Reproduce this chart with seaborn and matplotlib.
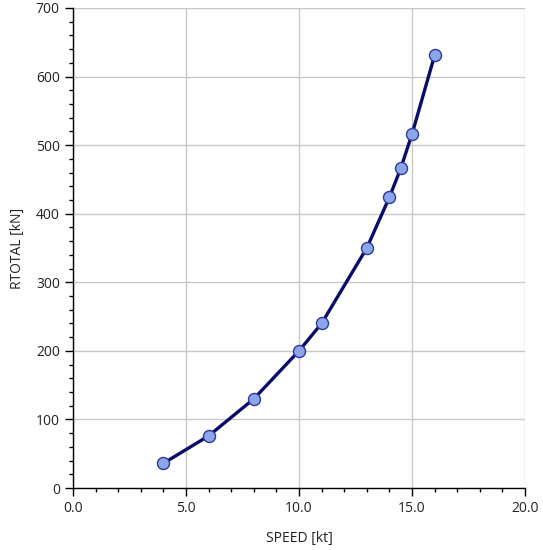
import matplotlib
matplotlib.use("Agg")
import matplotlib.pyplot as plt
from matplotlib.ticker import MultipleLocator, FormatStrFormatter
import pandas as pd
import seaborn as sns

# speed / total resistance values
speed_kt = [4, 6, 8, 10, 11, 13, 14, 14.5, 15, 16]
rtotal_kn = [36, 76, 130, 200, 240, 350, 424, 466, 516, 631]

df = pd.DataFrame({"SPEED [kt]": speed_kt, "RTOTAL [kN]": rtotal_kn})

sns.set_style("white")
plt.rcParams["font.family"] = ["Open Sans", "DejaVu Sans"]

fig = plt.figure(figsize=(5.43, 5.5), dpi=100)
ax = fig.add_axes([0.1344, 0.1127, 0.8325, 0.8728])

sns.lineplot(data=df, x="SPEED [kt]", y="RTOTAL [kN]", ax=ax,
             color="#0b0b6b", linewidth=2.4, zorder=3)
sns.scatterplot(data=df, x="SPEED [kt]", y="RTOTAL [kN]", ax=ax,
                s=75, color="#8da6ea", edgecolor="#2a3a9a", linewidth=1.0,
                zorder=4)

ax.set_xlim(0, 20)
ax.set_ylim(0, 700)
ax.xaxis.set_major_locator(MultipleLocator(5))
ax.xaxis.set_minor_locator(MultipleLocator(1))
ax.yaxis.set_major_locator(MultipleLocator(100))
ax.yaxis.set_minor_locator(MultipleLocator(20))
ax.xaxis.set_major_formatter(FormatStrFormatter("%.1f"))

ax.grid(True, which="major", color="#c8c8c8", linewidth=1.0)
ax.set_axisbelow(True)
for side in ["top", "right"]:
    ax.spines[side].set_visible(False)
for side in ["left", "bottom"]:
    ax.spines[side].set_color("black")
    ax.spines[side].set_linewidth(1.0)

ax.tick_params(which="major", direction="out", length=6, width=1,
               color="black", labelsize=10, labelcolor="#222222",
               left=True, bottom=True)
ax.tick_params(which="minor", direction="out", length=3, width=1,
               color="black", left=True, bottom=True)

ax.set_xlabel("SPEED [kt]", fontsize=10, color="#222222", labelpad=11)
ax.set_ylabel("RTOTAL [kN]", fontsize=10, color="#222222", labelpad=8)

fig.savefig("out.png", dpi=100)
